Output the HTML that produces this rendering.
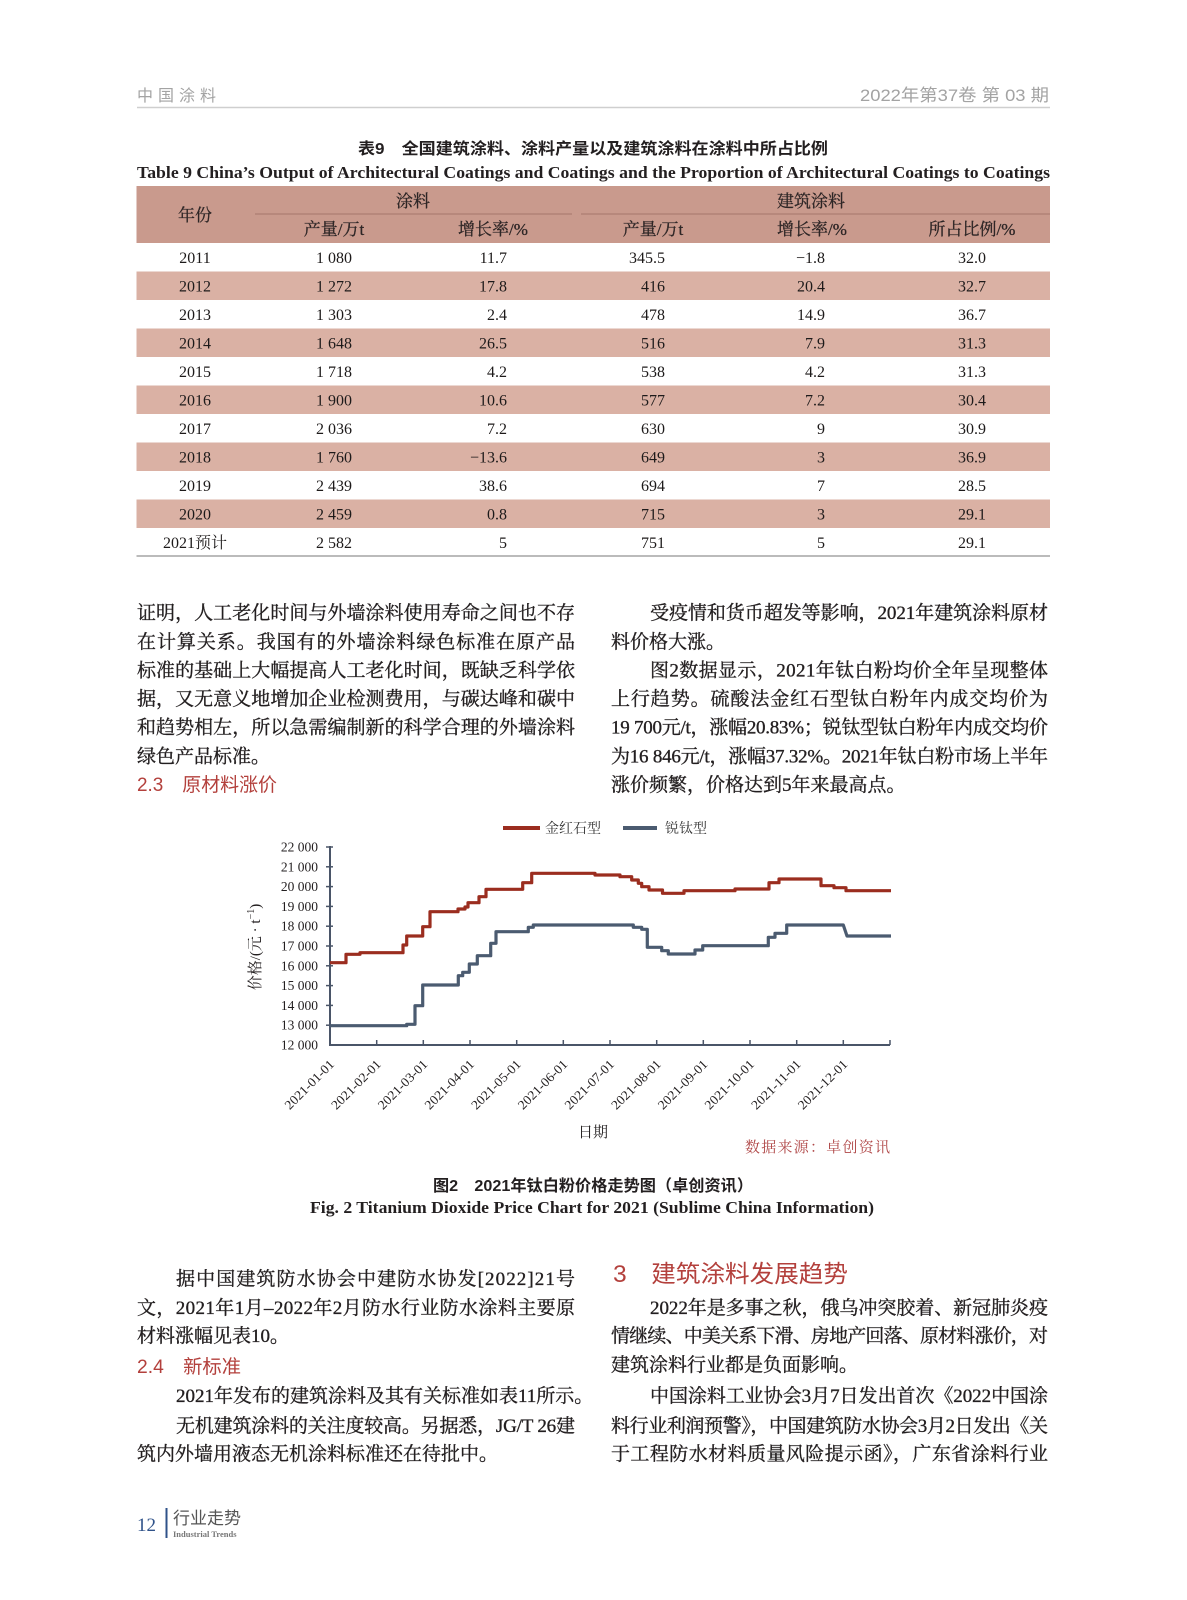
<!DOCTYPE html>
<html><head><meta charset="utf-8"><style>
html,body{margin:0;padding:0;background:#fff;}
svg{display:block;}
.s{font-family:"Liberation Serif","Noto Serif CJK SC",serif;}
.h{font-family:"Liberation Sans","Noto Sans CJK SC",sans-serif;}
.b{font-size:19px;fill:#231f20;stroke:#231f20;stroke-width:0.35px;}
</style></head><body>
<svg width="1187" height="1600" viewBox="0 0 1187 1600" xmlns="http://www.w3.org/2000/svg">
<rect width="1187" height="1600" fill="#fff"/>
<!-- header -->
<text class="h" x="137" y="101" font-size="16" fill="#a3a3a3" letter-spacing="5">中国涂料</text>
<text class="h" x="860" y="101" font-size="17" fill="#a3a3a3" textLength="189" lengthAdjust="spacingAndGlyphs">2022年第37卷  第 03 期</text>
<line x1="137" y1="107.5" x2="1050" y2="107.5" stroke="#cfcfcf" stroke-width="1.5"/>
<!-- table titles -->
<text class="h" x="358" y="154" font-size="16" font-weight="bold" fill="#231f20" textLength="470" lengthAdjust="spacingAndGlyphs">表9　全国建筑涂料、涂料产量以及建筑涂料在涂料中所占比例</text>
<text class="s" x="137" y="178" font-size="17" font-weight="bold" fill="#231f20" textLength="913" lengthAdjust="spacingAndGlyphs">Table 9   China’s Output of Architectural Coatings and Coatings and the Proportion of Architectural Coatings to Coatings</text>
<!-- table -->
<rect x="136.5" y="186" width="913.5" height="57" fill="#c99a8d"/>
<rect x="136.5" y="271.5" width="913.5" height="28.5" fill="#dab1a4"/>
<rect x="136.5" y="328.5" width="913.5" height="28.5" fill="#dab1a4"/>
<rect x="136.5" y="385.5" width="913.5" height="28.5" fill="#dab1a4"/>
<rect x="136.5" y="442.5" width="913.5" height="28.5" fill="#dab1a4"/>
<rect x="136.5" y="499.5" width="913.5" height="28.5" fill="#dab1a4"/>
<line x1="255" y1="214" x2="572" y2="214" stroke="#a5776b" stroke-width="1"/>
<line x1="581" y1="214" x2="1050" y2="214" stroke="#a5776b" stroke-width="1"/>
<line x1="136.5" y1="556" x2="1050" y2="556" stroke="#777" stroke-width="1"/>
<g class="s" font-size="17" fill="#2e2626" stroke="#2e2626" stroke-width="0.3" text-anchor="middle">
<text x="195" y="221">年份</text>
<text x="413" y="207">涂料</text>
<text x="811" y="207">建筑涂料</text>
<text x="334" y="235">产量/万t</text>
<text x="493" y="235">增长率/%</text>
<text x="653" y="235">产量/万t</text>
<text x="812" y="235">增长率/%</text>
<text x="972" y="235">所占比例/%</text>
</g>
<g class="s" font-size="16" fill="#1d1a1a">
<g text-anchor="middle">
<text x="195" y="263">2011</text><text x="195" y="291.5">2012</text><text x="195" y="320">2013</text><text x="195" y="348.5">2014</text><text x="195" y="377">2015</text><text x="195" y="405.5">2016</text><text x="195" y="434">2017</text><text x="195" y="462.5">2018</text><text x="195" y="491">2019</text><text x="195" y="519.5">2020</text><text x="195" y="548">2021预计</text>
<text x="334" y="263">1 080</text><text x="334" y="291.5">1 272</text><text x="334" y="320">1 303</text><text x="334" y="348.5">1 648</text><text x="334" y="377">1 718</text><text x="334" y="405.5">1 900</text><text x="334" y="434">2 036</text><text x="334" y="462.5">1 760</text><text x="334" y="491">2 439</text><text x="334" y="519.5">2 459</text><text x="334" y="548">2 582</text>
</g>
<g text-anchor="end">
<text x="507" y="263">11.7</text><text x="507" y="291.5">17.8</text><text x="507" y="320">2.4</text><text x="507" y="348.5">26.5</text><text x="507" y="377">4.2</text><text x="507" y="405.5">10.6</text><text x="507" y="434">7.2</text><text x="507" y="462.5">−13.6</text><text x="507" y="491">38.6</text><text x="507" y="519.5">0.8</text><text x="507" y="548">5</text>
<text x="665" y="263">345.5</text><text x="665" y="291.5">416</text><text x="665" y="320">478</text><text x="665" y="348.5">516</text><text x="665" y="377">538</text><text x="665" y="405.5">577</text><text x="665" y="434">630</text><text x="665" y="462.5">649</text><text x="665" y="491">694</text><text x="665" y="519.5">715</text><text x="665" y="548">751</text>
<text x="825" y="263">−1.8</text><text x="825" y="291.5">20.4</text><text x="825" y="320">14.9</text><text x="825" y="348.5">7.9</text><text x="825" y="377">4.2</text><text x="825" y="405.5">7.2</text><text x="825" y="434">9</text><text x="825" y="462.5">3</text><text x="825" y="491">7</text><text x="825" y="519.5">3</text><text x="825" y="548">5</text>
<text x="986" y="263">32.0</text><text x="986" y="291.5">32.7</text><text x="986" y="320">36.7</text><text x="986" y="348.5">31.3</text><text x="986" y="377">31.3</text><text x="986" y="405.5">30.4</text><text x="986" y="434">30.9</text><text x="986" y="462.5">36.9</text><text x="986" y="491">28.5</text><text x="986" y="519.5">29.1</text><text x="986" y="548">29.1</text>
</g>
</g>
<!-- upper body text -->
<g class="s b">
<text x="137" y="619" textLength="438" lengthAdjust="spacing">证明，人工老化时间与外墙涂料使用寿命之间也不存</text>
<text x="137" y="648" textLength="438" lengthAdjust="spacing">在计算关系。我国有的外墙涂料绿色标准在原产品</text>
<text x="137" y="676.5" textLength="438" lengthAdjust="spacing">标准的基础上大幅提高人工老化时间，既缺乏科学依</text>
<text x="137" y="705" textLength="438" lengthAdjust="spacing">据，又无意义地增加企业检测费用，与碳达峰和碳中</text>
<text x="137" y="733.5" textLength="438" lengthAdjust="spacing">和趋势相左，所以急需编制新的科学合理的外墙涂料</text>
<text x="137" y="762.5">绿色产品标准。</text>
<text x="650" y="619" textLength="398" lengthAdjust="spacing">受疫情和货币超发等影响，2021年建筑涂料原材</text>
<text x="611" y="648">料价格大涨。</text>
<text x="650" y="676.5" textLength="398" lengthAdjust="spacing">图2数据显示，2021年钛白粉均价全年呈现整体</text>
<text x="611" y="705" textLength="437" lengthAdjust="spacing">上行趋势。硫酸法金红石型钛白粉年内成交均价为</text>
<text x="611" y="733.5" textLength="437" lengthAdjust="spacing">19 700元/t，涨幅20.83%；锐钛型钛白粉年内成交均价</text>
<text x="611" y="762.5" textLength="437" lengthAdjust="spacing">为16 846元/t，涨幅37.32%。2021年钛白粉市场上半年</text>
<text x="611" y="791">涨价频繁，价格达到5年来最高点。</text>
</g>
<text class="h" x="137" y="791" font-size="19" fill="#b3403c" textLength="140" lengthAdjust="spacingAndGlyphs">2.3　原材料涨价</text>
<!-- chart -->
<g class="s">
<line x1="503" y1="828" x2="540" y2="828" stroke="#9b2d1f" stroke-width="4"/>
<text x="545" y="833" font-size="14" fill="#333">金红石型</text>
<line x1="623" y1="828" x2="657" y2="828" stroke="#4b5b70" stroke-width="4"/>
<text x="665" y="833" font-size="14" fill="#333">锐钛型</text>
<g font-size="13.5" fill="#231f20" text-anchor="end">
<text x="318" y="851.5">22 000</text><text x="318" y="871.3">21 000</text><text x="318" y="891.1">20 000</text><text x="318" y="910.9">19 000</text><text x="318" y="930.7">18 000</text><text x="318" y="950.5">17 000</text><text x="318" y="970.3">16 000</text><text x="318" y="990.1">15 000</text><text x="318" y="1009.9">14 000</text><text x="318" y="1029.7">13 000</text><text x="318" y="1049.5">12 000</text>
</g>
<text x="260" y="947" font-size="15" fill="#231f20" text-anchor="middle" transform="rotate(-90 260 947)">价格/(元 · t<tspan dy="-6" font-size="10">−1</tspan><tspan dy="6">)</tspan></text>
<g stroke="#4a5568" stroke-width="1.5">
<line x1="326" y1="847" x2="333" y2="847"/><line x1="326" y1="866.8" x2="333" y2="866.8"/><line x1="326" y1="886.6" x2="333" y2="886.6"/><line x1="326" y1="906.4" x2="333" y2="906.4"/><line x1="326" y1="926.2" x2="333" y2="926.2"/><line x1="326" y1="946" x2="333" y2="946"/><line x1="326" y1="965.8" x2="333" y2="965.8"/><line x1="326" y1="985.6" x2="333" y2="985.6"/><line x1="326" y1="1005.4" x2="333" y2="1005.4"/><line x1="326" y1="1025.2" x2="333" y2="1025.2"/>
<line x1="376.7" y1="1045" x2="376.7" y2="1040"/><line x1="423.3" y1="1045" x2="423.3" y2="1040"/><line x1="470" y1="1045" x2="470" y2="1040"/><line x1="516.7" y1="1045" x2="516.7" y2="1040"/><line x1="563.3" y1="1045" x2="563.3" y2="1040"/><line x1="610" y1="1045" x2="610" y2="1040"/><line x1="656.7" y1="1045" x2="656.7" y2="1040"/><line x1="703.3" y1="1045" x2="703.3" y2="1040"/><line x1="750" y1="1045" x2="750" y2="1040"/><line x1="796.7" y1="1045" x2="796.7" y2="1040"/><line x1="843.3" y1="1045" x2="843.3" y2="1040"/><line x1="890" y1="1045" x2="890" y2="1040"/>
</g>
<path d="M330 846 V1045 H890" fill="none" stroke="#4a5568" stroke-width="2"/>
<path d="M330 962.7 H346 V954.3 H360 V952.7 H403 V945 H406.7 V936 H422.7 V926.7 H430 V911.7 H458 V909 H465 V907 H468 V902.7 H479 V896.7 H486 V889.3 H522.7 V882.7 H531.7 V873.3 H595 V875 H620 V876.7 H631.7 V880 H638.3 V883.3 H641.7 V886.7 H649 V890 H662.5 V893.3 H684 V890.7 H735 V889 H769 V882.7 H779 V879 H821 V885.7 H834 V887.7 H846 V890.7 H891" fill="none" stroke="#9b2d1f" stroke-width="3.2" stroke-linejoin="round"/>
<path d="M330 1025.7 H406.7 V1024.3 H415 V1005.7 H422.7 V985 H458.3 V975.7 H462.7 V972.3 H469.3 V964 H477.3 V955.7 H490.7 V943.3 H496 V931.7 H528.3 V927.3 H533.3 V925 H633.3 V927.3 H641.7 V929.3 H647.3 V947.3 H661.7 V950.7 H668.3 V954 H695 V950 H702.7 V945.7 H768.3 V937.3 H775 V933.3 H786.7 V925 H843.3 L847 936 H891" fill="none" stroke="#4b5b70" stroke-width="3.2" stroke-linejoin="round"/>
<g font-size="13" fill="#231f20" text-anchor="end">
<text x="335" y="1065" transform="rotate(-45 335 1065)" textLength="64" lengthAdjust="spacingAndGlyphs">2021-01-01</text>
<text x="381.7" y="1065" transform="rotate(-45 381.7 1065)" textLength="64" lengthAdjust="spacingAndGlyphs">2021-02-01</text>
<text x="428.3" y="1065" transform="rotate(-45 428.3 1065)" textLength="64" lengthAdjust="spacingAndGlyphs">2021-03-01</text>
<text x="475" y="1065" transform="rotate(-45 475 1065)" textLength="64" lengthAdjust="spacingAndGlyphs">2021-04-01</text>
<text x="521.7" y="1065" transform="rotate(-45 521.7 1065)" textLength="64" lengthAdjust="spacingAndGlyphs">2021-05-01</text>
<text x="568.3" y="1065" transform="rotate(-45 568.3 1065)" textLength="64" lengthAdjust="spacingAndGlyphs">2021-06-01</text>
<text x="615" y="1065" transform="rotate(-45 615 1065)" textLength="64" lengthAdjust="spacingAndGlyphs">2021-07-01</text>
<text x="661.7" y="1065" transform="rotate(-45 661.7 1065)" textLength="64" lengthAdjust="spacingAndGlyphs">2021-08-01</text>
<text x="708.3" y="1065" transform="rotate(-45 708.3 1065)" textLength="64" lengthAdjust="spacingAndGlyphs">2021-09-01</text>
<text x="755" y="1065" transform="rotate(-45 755 1065)" textLength="64" lengthAdjust="spacingAndGlyphs">2021-10-01</text>
<text x="801.7" y="1065" transform="rotate(-45 801.7 1065)" textLength="64" lengthAdjust="spacingAndGlyphs">2021-11-01</text>
<text x="848.3" y="1065" transform="rotate(-45 848.3 1065)" textLength="64" lengthAdjust="spacingAndGlyphs">2021-12-01</text>
</g>
<text x="578" y="1137" font-size="15" fill="#231f20">日期</text>
<text x="745" y="1152" font-size="15" fill="#b04848" textLength="145" lengthAdjust="spacing">数据来源：卓创资讯</text>
</g>
<!-- figure captions -->
<text class="h" x="433" y="1191" font-size="16" font-weight="bold" fill="#231f20" textLength="320" lengthAdjust="spacingAndGlyphs">图2　2021年钛白粉价格走势图（卓创资讯）</text>
<text class="s" x="310" y="1213" font-size="17" font-weight="bold" fill="#231f20" textLength="564" lengthAdjust="spacingAndGlyphs">Fig. 2   Titanium Dioxide Price Chart for 2021 (Sublime China Information)</text>
<!-- lower body text -->
<g class="s b">
<text x="176" y="1285" textLength="399" lengthAdjust="spacing">据中国建筑防水协会中建防水协发[2022]21号</text>
<text x="137" y="1314" textLength="438" lengthAdjust="spacing">文，2021年1月–2022年2月防水行业防水涂料主要原</text>
<text x="137" y="1342">材料涨幅见表10。</text>
<text x="176" y="1402">2021年发布的建筑涂料及其有关标准如表11所示。</text>
<text x="176" y="1432" textLength="399" lengthAdjust="spacing">无机建筑涂料的关注度较高。另据悉，JG/T 26建</text>
<text x="137" y="1460">筑内外墙用液态无机涂料标准还在待批中。</text>
<text x="650" y="1314" textLength="398" lengthAdjust="spacing">2022年是多事之秋，俄乌冲突胶着、新冠肺炎疫</text>
<text x="611" y="1342" textLength="437" lengthAdjust="spacing">情继续、中美关系下滑、房地产回落、原材料涨价，对</text>
<text x="611" y="1371">建筑涂料行业都是负面影响。</text>
<text x="650" y="1402" textLength="398" lengthAdjust="spacing">中国涂料工业协会3月7日发出首次《2022中国涂</text>
<text x="611" y="1432" textLength="437" lengthAdjust="spacing">料行业利润预警》，中国建筑防水协会3月2日发出《关</text>
<text x="611" y="1460" textLength="437" lengthAdjust="spacing">于工程防水材料质量风险提示函》，广东省涂料行业</text>
</g>
<text class="h" x="137" y="1373" font-size="19" fill="#b3403c" textLength="104" lengthAdjust="spacingAndGlyphs">2.4　新标准</text>
<text class="h" x="613" y="1282" font-size="24" fill="#b3403c" textLength="235" lengthAdjust="spacingAndGlyphs">3　建筑涂料发展趋势</text>
<!-- footer -->
<text class="s" x="137" y="1531" font-size="19" fill="#2f5289">12</text>
<line x1="166.5" y1="1508" x2="166.5" y2="1538" stroke="#2f5289" stroke-width="2"/>
<text class="h" x="173" y="1524" font-size="17" fill="#555">行业走势</text>
<text class="s" x="173" y="1537" font-size="8.5" fill="#777" font-weight="bold">Industrial Trends</text>
</svg>
</body></html>
